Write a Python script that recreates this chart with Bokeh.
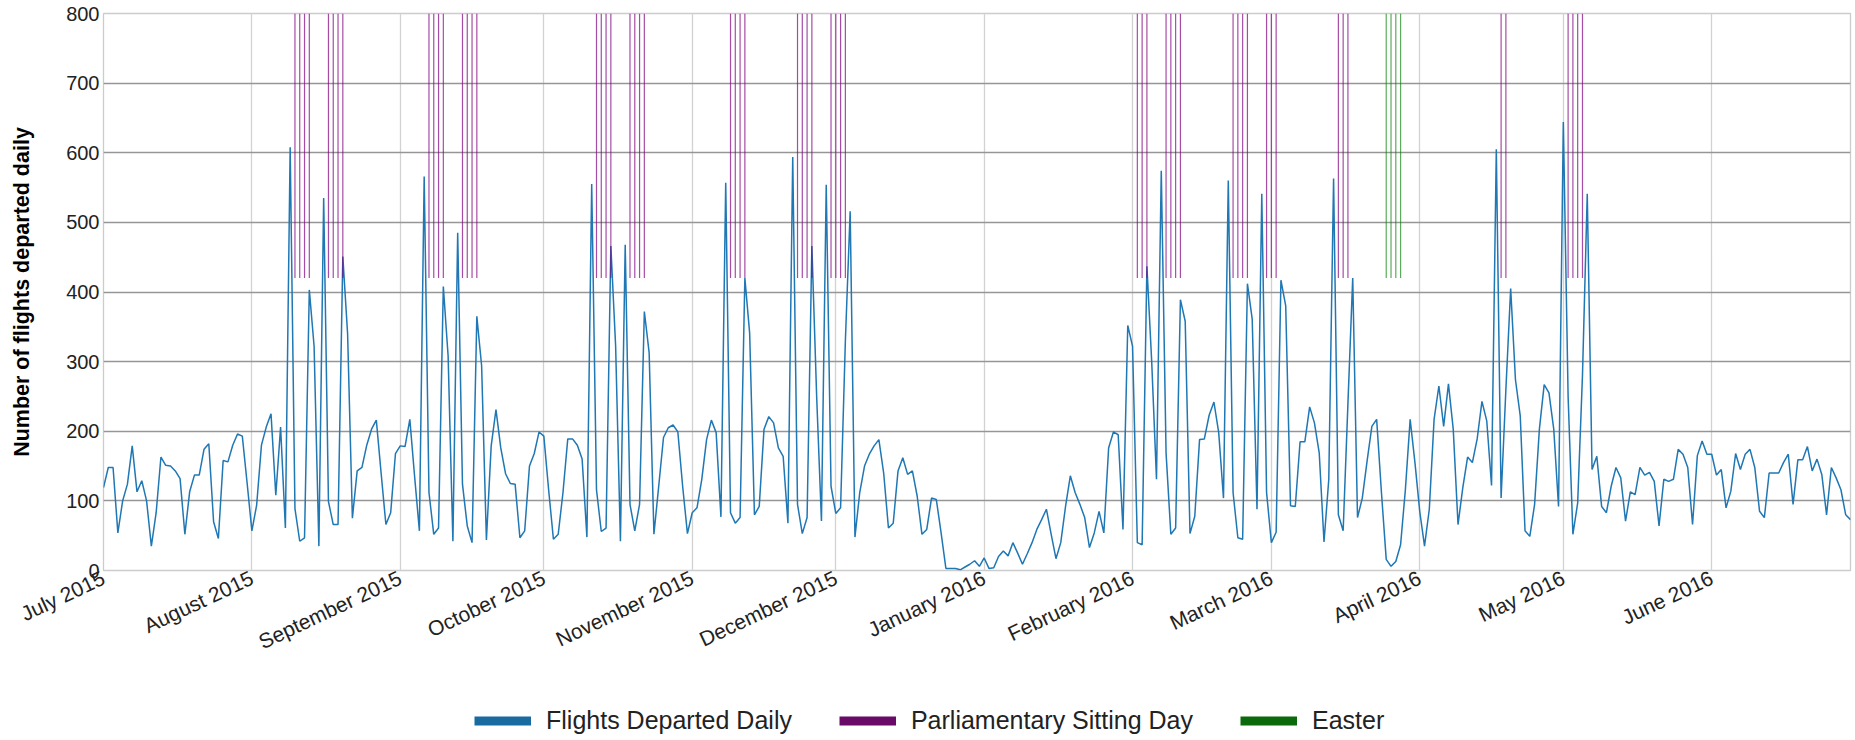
import pandas as pd
from bokeh.plotting import figure
from bokeh.layouts import column
from bokeh.models import (ColumnDataSource, FixedTicker, DatetimeTickFormatter,
                          Legend, LegendItem, Range1d)
from bokeh.embed import file_html
from bokeh.resources import INLINE

# ---------------- data ----------------
start_date = "2015-07-01"

flights = [
    119, 148, 148, 54, 100, 124, 179, 113, 129, 100,
    35, 83, 163, 151, 150, 143, 132, 52, 113, 137,
    137, 174, 182, 70, 46, 158, 156, 180, 196, 193,
    126, 57, 94, 180, 206, 225, 108, 206, 61, 608,
    89, 42, 47, 403, 322, 35, 535, 99, 66, 66,
    451, 340, 75, 143, 148, 180, 203, 216, 140, 66,
    83, 168, 179, 178, 217, 135, 57, 566, 112, 52,
    61, 408, 308, 42, 485, 124, 64, 40, 365, 294,
    44, 179, 231, 176, 139, 125, 124, 47, 57, 150,
    168, 199, 193, 116, 45, 52, 112, 189, 189, 180,
    160, 48, 555, 116, 56, 61, 466, 322, 42, 468,
    95, 57, 95, 372, 313, 52, 121, 191, 205, 209,
    199, 121, 53, 83, 90, 131, 188, 216, 198, 77,
    557, 83, 68, 76, 420, 341, 80, 92, 203, 221,
    212, 176, 164, 68, 594, 95, 53, 76, 466, 250,
    71, 554, 121, 82, 90, 330, 516, 48, 112, 150,
    167, 179, 188, 140, 61, 68, 143, 162, 138, 143,
    107, 52, 59, 104, 102, 54, 3, 3, 3, 1,
    5, 9, 14, 6, 18, 3, 4, 20, 28, 21,
    40, 25, 9, 24, 40, 59, 73, 88, 52, 17,
    40, 92, 136, 112, 95, 76, 33, 54, 85, 54,
    176, 199, 195, 59, 352, 322, 40, 37, 437, 300,
    131, 574, 169, 52, 61, 389, 358, 53, 78, 188,
    189, 223, 242, 198, 104, 560, 112, 47, 45, 412,
    361, 88, 541, 112, 40, 55, 417, 380, 93, 92,
    185, 185, 235, 212, 169, 41, 131, 563, 80, 57,
    240, 420, 76, 104, 157, 207, 217, 112, 16, 6,
    13, 37, 116, 217, 155, 85, 35, 88, 217, 265,
    207, 268, 203, 66, 119, 163, 155, 189, 243, 215,
    122, 605, 104, 260, 405, 274, 222, 57, 49, 95,
    203, 267, 255, 203, 92, 644, 250, 52, 97, 280,
    541, 145, 164, 92, 83, 121, 148, 133, 71, 113,
    109, 148, 137, 141, 128, 64, 131, 128, 131, 174,
    167, 148, 66, 165, 186, 167, 167, 137, 145, 90,
    114, 168, 145, 167, 174, 148, 85, 76, 140, 140,
    140, 155, 167, 95, 159, 159, 178, 143, 160, 138,
    80, 148, 133, 116, 80, 73,
]

sitting_days = [
    "2015-08-10", "2015-08-11", "2015-08-12", "2015-08-13",
    "2015-08-17", "2015-08-18", "2015-08-19", "2015-08-20",
    "2015-09-07", "2015-09-08", "2015-09-09", "2015-09-10",
    "2015-09-14", "2015-09-15", "2015-09-16", "2015-09-17",
    "2015-10-12", "2015-10-13", "2015-10-14", "2015-10-15",
    "2015-10-19", "2015-10-20", "2015-10-21", "2015-10-22",
    "2015-11-09", "2015-11-10", "2015-11-11", "2015-11-12",
    "2015-11-23", "2015-11-24", "2015-11-25", "2015-11-26",
    "2015-11-30", "2015-12-01", "2015-12-02", "2015-12-03",
    "2016-02-02", "2016-02-03", "2016-02-04",
    "2016-02-08", "2016-02-09", "2016-02-10", "2016-02-11",
    "2016-02-22", "2016-02-23", "2016-02-24", "2016-02-25",
    "2016-02-29", "2016-03-01", "2016-03-02",
    "2016-03-15", "2016-03-16", "2016-03-17",
    "2016-04-18", "2016-04-19",
    "2016-05-02", "2016-05-03", "2016-05-04", "2016-05-05",
]

easter_days = ["2016-03-25", "2016-03-26", "2016-03-27", "2016-03-28"]

series_names = ["Flights Departed Daily", "Parliamentary Sitting Day", "Easter"]
series_colors = ["#1a6aa2", "#690a69", "#0a690a"]

month_labels_start = "2015-07-01"
month_labels_end = "2016-06-01"
y_ticks = [0, 100, 200, 300, 400, 500, 600, 700, 800]
marker_low, marker_high = 420, 800

# ---------------- build ----------------
dates = pd.date_range(start_date, periods=len(flights), freq="D")
month_ticks = pd.date_range(month_labels_start, month_labels_end, freq="MS")
tick_ms = [t.value / 1e6 for t in month_ticks]

src = ColumnDataSource(dict(x=dates, y=flights))
sit = pd.to_datetime(sitting_days)
eas = pd.to_datetime(easter_days)
sit_src = ColumnDataSource(dict(x=sit, y0=[marker_low] * len(sit), y1=[marker_high] * len(sit)))
eas_src = ColumnDataSource(dict(x=eas, y0=[marker_low] * len(eas), y1=[marker_high] * len(eas)))

FONT = "Liberation Sans"
FIG_W = 103 + 1747 + 2

p = figure(x_axis_type="datetime", frame_width=1747, frame_height=557,
           output_backend="svg", toolbar_location=None,
           x_range=Range1d(dates[0], dates[-1]), y_range=Range1d(0, 800),
           min_border_left=103, min_border_right=2, min_border_top=13,
           min_border_bottom=110, background_fill_color="white",
           border_fill_color="white")

p.line("x", "y", source=src, line_color="#1f77b4", line_width=1.5)
p.segment(x0="x", y0="y0", x1="x", y1="y1", source=sit_src,
          line_color="#800080", line_alpha=0.7, line_width=1.2)
p.segment(x0="x", y0="y0", x1="x", y1="y1", source=eas_src,
          line_color="#008000", line_alpha=0.65, line_width=1.2)

# axes
p.xaxis.ticker = FixedTicker(ticks=tick_ms)
fmt = "%B %Y"
p.xaxis.formatter = DatetimeTickFormatter(
    milliseconds=fmt, seconds=fmt, minsec=fmt, minutes=fmt, hourmin=fmt,
    hours=fmt, days=fmt, months=fmt, years=fmt)
p.xaxis.major_label_orientation = 0.44
p.yaxis.ticker = FixedTicker(ticks=y_ticks)

for ax in (p.xaxis, p.yaxis):
    ax.axis_line_color = None
    ax.major_tick_line_color = None
    ax.minor_tick_line_color = None
    ax.major_tick_out = 0
    ax.major_tick_in = 0
    ax.major_label_text_font = FONT
    ax.major_label_text_color = "#222222"

p.xaxis.major_label_text_font_size = "21px"
p.yaxis.major_label_text_font_size = "20px"
p.xaxis.major_label_standoff = 6
p.yaxis.major_label_standoff = 4
p.yaxis.axis_label = "Number of flights departed daily"
p.yaxis.axis_label_text_font = FONT
p.yaxis.axis_label_text_font_style = "bold"
p.yaxis.axis_label_text_font_size = "21.5px"
p.yaxis.axis_label_text_color = "#000000"
p.yaxis.axis_label_standoff = 29

p.ygrid.grid_line_color = "#969696"
p.ygrid.grid_line_width = 1.6
p.xgrid.grid_line_color = "#d2d2d2"
p.xgrid.grid_line_width = 1.3
p.outline_line_color = "#cccccc"
p.outline_line_width = 1.3

# ---------------- legend strip ----------------
leg = figure(width=FIG_W, height=55, min_border=0, output_backend="svg",
             toolbar_location=None, x_axis_location=None, y_axis_location=None,
             x_range=Range1d(0, 1), y_range=Range1d(0, 1),
             background_fill_color="white", border_fill_color="white",
             outline_line_color=None)
leg.grid.visible = False
items = []
for name, col in zip(series_names, series_colors):
    # legend proxy: a single missing point, so nothing is drawn in the strip
    r = leg.line([float("nan")], [float("nan")], line_color=col, line_width=9)
    items.append(LegendItem(label=name, renderers=[r]))

legend = Legend(items=items, orientation="horizontal", location=(371, 0),
                glyph_width=57, glyph_height=25, label_height=25,
                label_standoff=15, spacing=47, padding=0, margin=0,
                border_line_color=None, background_fill_alpha=0,
                label_text_font=FONT, label_text_font_size="25px",
                label_text_color="#222222")
leg.add_layout(legend)

layout = column(p, leg, spacing=0)
open("out.html", "w").write(file_html(layout, INLINE))
